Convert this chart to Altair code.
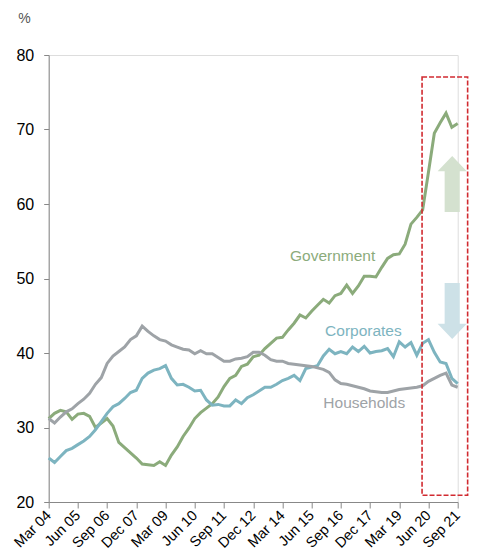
import altair as alt
import pandas as pd

# ---- data (quarterly, Mar 04 .. Sep 21) ----
quarter_index = list(range(71))
tick_values = list(range(0, 71, 5))
tick_labels = ["Mar 04", "Jun 05", "Sep 06", "Dec 07", "Mar 09", "Jun 10", "Sep 11",
               "Dec 12", "Mar 14", "Jun 15", "Sep 16", "Dec 17", "Mar 19", "Jun 20", "Sep 21"]
y_values = [20, 30, 40, 50, 60, 70, 80]

government = [31.2, 31.9, 32.3, 32.1, 31.1, 31.8, 31.9, 31.5, 30.0, 30.6,
              31.2, 30.2, 28.0, 27.3, 26.6, 25.9, 25.1, 25.0, 24.9, 25.4,
              24.9, 26.3, 27.4, 28.8, 29.9, 31.2, 32.0, 32.6, 33.2, 34.1,
              35.5, 36.6, 37.0, 38.2, 38.5, 39.5, 39.7, 40.6, 41.3, 42.0,
              42.1, 43.1, 44.0, 45.1, 44.7, 45.6, 46.4, 47.2, 46.7, 47.7,
              48.0, 49.1, 48.0, 49.0, 50.3, 50.3, 50.2, 51.5, 52.7, 53.2,
              53.3, 54.6, 57.3, 58.2, 59.2, 64.3, 69.5, 70.9, 72.2, 70.3,
              70.8]

corporates = [25.9, 25.3, 26.1, 26.9, 27.2, 27.7, 28.2, 28.8, 29.7, 30.8,
              31.9, 32.8, 33.2, 33.9, 34.7, 35.0, 36.6, 37.3, 37.7, 37.9,
              38.3, 36.6, 35.7, 35.8, 35.4, 34.9, 35.0, 33.7, 33.0, 33.1,
              32.9, 32.9, 33.7, 33.2, 34.0, 34.4, 34.9, 35.4, 35.4, 35.8,
              36.3, 36.6, 37.0, 36.3, 37.9, 38.1, 38.3, 39.6, 40.5, 39.9,
              40.2, 39.9, 40.8, 40.2, 40.9, 40.0, 40.2, 40.3, 40.6, 39.5,
              41.5, 40.8, 41.4, 39.7, 41.3, 41.8, 40.1, 38.8, 38.6, 36.6,
              35.9]

households = [31.2, 30.6, 31.4, 32.1, 32.5, 33.2, 33.8, 34.6, 35.8, 36.7,
              38.6, 39.6, 40.2, 40.8, 41.8, 42.3, 43.6, 42.9, 42.3, 41.8,
              41.6, 41.1, 40.8, 40.5, 40.4, 39.9, 40.3, 39.9, 39.9, 39.4,
              38.9, 38.9, 39.2, 39.3, 39.5, 40.1, 40.1, 39.7, 39.1, 38.9,
              38.9, 38.6, 38.5, 38.4, 38.3, 38.2, 38.0, 37.8, 37.4, 36.4,
              35.9, 35.8, 35.6, 35.4, 35.2, 34.9, 34.8, 34.7, 34.7, 34.9,
              35.1, 35.2, 35.3, 35.4, 35.6, 36.2, 36.6, 37.0, 37.3, 35.7,
              35.4]

series_names = ["Government", "Corporates", "Households"]
series_colors = ["#8bab7b", "#7db4c0", "#9ea3a7"]
label_colors = ["#8fae80", "#7fb6c2", "#a3a7ab"]
label_x = [41.3, 47.3, 47.0]
label_y = [52.35, 42.32, 32.58]

box_x, box_x2, box_y, box_y2 = [63.9], [71.7], [77.05], [20.9]

arrow_x = [69.06, 69.06]
arrow_y = [62.68, 45.64]
arrow_colors = ["#d4e1cf", "#cde1e7"]

FONT = "Liberation Sans"

# ---- tables ----
rows = []
for name, vals in zip(series_names, [government, corporates, households]):
    for q, v in zip(quarter_index, vals):
        rows.append({"q": q, "value": v, "series": name})
lines_df = pd.DataFrame(rows)
labels_df = pd.DataFrame({"q": label_x, "value": label_y, "series": series_names})
box_df = pd.DataFrame({"q": box_x, "q2": box_x2, "value": box_y, "value2": box_y2})
up_df = pd.DataFrame({"q": [arrow_x[0]], "value": [arrow_y[0]]})
down_df = pd.DataFrame({"q": [arrow_x[1]], "value": [arrow_y[1]]})

label_expr = "[" + ",".join("'%s'" % t for t in tick_labels) + "][round(datum.value/5)]"

x_scale = alt.Scale(domain=[0, 70], nice=False, zero=False)
y_scale = alt.Scale(domain=[20, 80], nice=False, zero=False)

x_axis = alt.Axis(values=tick_values, tickCount=20, labelExpr=label_expr, labelAngle=-45,
                  labelAlign="right", labelBaseline="middle", labelPadding=5,
                  tickSize=6, labelFontSize=14.5, grid=False,
                  title=None, labelOverlap=False, labelFlush=False,
                  labelSeparation=0)
y_axis = alt.Axis(values=y_values, format="d", tickSize=5, grid=False,
                  labelPadding=10, labelFontSize=16,
                  title="%", titleAngle=0, titleAlign="left", titleBaseline="alphabetic",
                  titleX=-31, titleY=-33, titleFont=FONT, titleFontSize=14,
                  titleFontWeight="normal", titleColor="#555555")

color_scale = alt.Scale(domain=series_names, range=series_colors)

lines = alt.Chart(lines_df).mark_line(strokeWidth=3).encode(
    x=alt.X("q:Q", scale=x_scale, axis=x_axis),
    y=alt.Y("value:Q", scale=y_scale, axis=y_axis),
    color=alt.Color("series:N", scale=color_scale, legend=None),
    detail="series:N",
)

texts = alt.Chart(labels_df).mark_text(align="left", baseline="alphabetic",
                                       font=FONT, fontSize=15.5).encode(
    x="q:Q", y="value:Q",
    color=alt.Color("series:N", scale=alt.Scale(domain=series_names, range=label_colors),
                    legend=None),
    text="series:N",
)

up_path = "M0,-1 L0.52,-0.46 L0.27,-0.46 L0.27,1 L-0.27,1 L-0.27,-0.46 L-0.52,-0.46 Z"
down_path = "M0,1 L0.52,0.46 L0.27,0.46 L0.27,-1 L-0.27,-1 L-0.27,0.46 L-0.52,0.46 Z"

up_arrow = alt.Chart(up_df).mark_point(shape=up_path, size=3136, filled=True, opacity=1,
                                       color=arrow_colors[0], strokeWidth=0).encode(
    x="q:Q", y="value:Q")
down_arrow = alt.Chart(down_df).mark_point(shape=down_path, size=3136, filled=True, opacity=1,
                                           color=arrow_colors[1], strokeWidth=0).encode(
    x="q:Q", y="value:Q")

box = alt.Chart(box_df).mark_rect(fill=None, fillOpacity=0, stroke="#d12a30", strokeWidth=1.6,
                                  strokeDash=[5, 2], clip=False).encode(
    x="q:Q", x2="q2:Q", y="value:Q", y2="value2:Q")

chart = alt.layer(lines, up_arrow, down_arrow, texts, box).properties(
    width=409, height=447,
    padding={"left": 40.7, "top": 47, "right": 11.3, "bottom": 48},
    autosize=alt.AutoSizeParams(type="none"),
).configure_view(
    stroke="transparent", strokeWidth=0
).configure_axis(
    grid=False, domainColor="#222222", tickColor="#222222", labelColor="#333333",
    labelFont=FONT, labelOverlap=False, labelSeparation=0
).configure(background="white")

chart.save("out.html", embed_options={"renderer": "svg", "actions": False})
